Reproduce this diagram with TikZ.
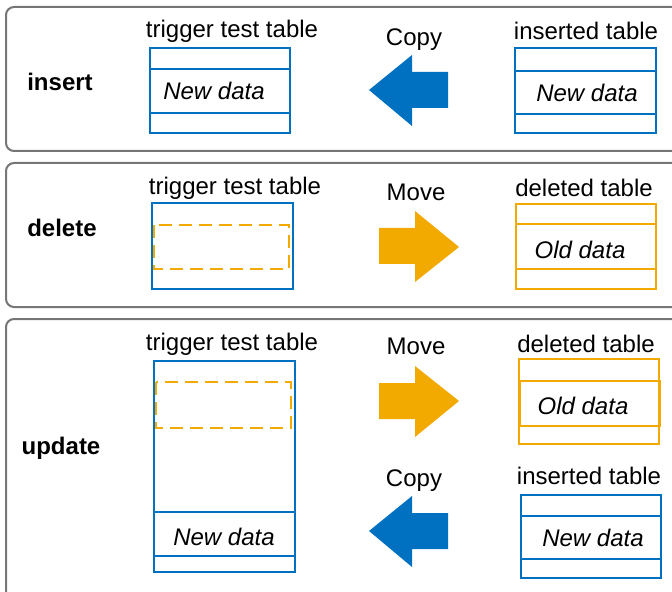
\documentclass[tikz,border=0pt]{standalone}
\usepackage{fontspec}
\setmainfont{Liberation Sans}
\definecolor{tblue}{RGB}{0,112,192}
\definecolor{torange}{RGB}{242,169,0}
\definecolor{pgray}{RGB}{118,118,118}
\begin{document}
\begin{tikzpicture}[x=0.5pt,y=-0.5pt,
        panel/.style={draw=pgray,line width=1pt,rounded corners=4pt},
        tbl/.style={line width=1pt},
        gap/.style={draw=torange,line width=1.2pt,dash pattern=on 6.5pt off 3.5pt},
        lbl/.style={font=\fontsize{12}{14}\selectfont},
        op/.style={font=\fontsize{12}{14}\selectfont\bfseries},
        rec/.style={font=\fontsize{12}{14}\selectfont\itshape}]
    \clip (0,0) rectangle (672,592);
    % insert
    \draw[panel] (6,7) rectangle (700,151);
    \node[op] (ins) at (60,82) {insert};
    \node[lbl] (tt1) at (232,31) {trigger test table};
    \draw[tbl,tblue] (150,48) rectangle (290,133) (150,69)--(290,69) (150,113)--(290,113);
    \node[rec] (nd1) at (214,91) {New data};
    \node[lbl] (cp1) at (414,40) {Copy};
    \fill[tblue] (369,90)--(412,55)--(412,72)--(448,72)--(448,108)--(412,108)--(412,126)--cycle;
    \node[lbl] (it1) at (586,31) {inserted table};
    \draw[tbl,tblue] (515,48) rectangle (656,133) (515,71)--(656,71) (515,114)--(656,114);
    \node[rec] (nd2) at (587,93) {New data};
    % delete
    \draw[panel] (6,163) rectangle (700,307);
    \node[op] (del) at (62,228) {delete};
    \node[lbl] (tt2) at (235,188) {trigger test table};
    \draw[tbl,tblue] (152,203) rectangle (293,289);
    \draw[gap] (154,225) rectangle (289,269);
    \node[lbl] (mv1) at (416,192) {Move};
    \fill[torange] (379,228)--(415,228)--(415,211)--(459,247)--(415,282)--(415,264)--(379,264)--cycle;
    \node[lbl] (dt1) at (584,188) {deleted table};
    \draw[tbl,torange] (516,204) rectangle (656,289) (516,224)--(656,224) (516,269)--(656,269);
    \node[rec] (od1) at (580,250) {Old data};
    % update
    \draw[panel] (6,319) rectangle (700,620);
    \node[op] (upd) at (61,448) {update};
    \node[lbl] (tt3) at (232,344) {trigger test table};
    \draw[tbl,tblue] (154,361) rectangle (295,572) (154,512)--(295,512) (154,556)--(295,556);
    \draw[gap] (156,382) rectangle (291,428);
    \node[rec] (nd3) at (224,537) {New data};
    \node[lbl] (mv2) at (416,346) {Move};
    \fill[torange] (379,383)--(415,383)--(415,366)--(459,401)--(415,437)--(415,419)--(379,419)--cycle;
    \node[lbl] (dt2) at (586,344) {deleted table};
    \draw[tbl,torange] (519,359) rectangle (659,444);
    \draw[tbl,torange] (520,381) rectangle (660,426);
    \node[rec] (od2) at (583,406) {Old data};
    \node[lbl] (cp2) at (414,481) {Copy};
    \fill[tblue] (369,531)--(412,496)--(412,513)--(448,513)--(448,549)--(412,549)--(412,567)--cycle;
    \node[lbl] (it2) at (589,476) {inserted table};
    \draw[tbl,tblue] (521,495) rectangle (661,578) (521,516)--(661,516) (521,559)--(661,559);
    \node[rec] (nd4) at (593,538) {New data};
\end{tikzpicture}
\end{document}
